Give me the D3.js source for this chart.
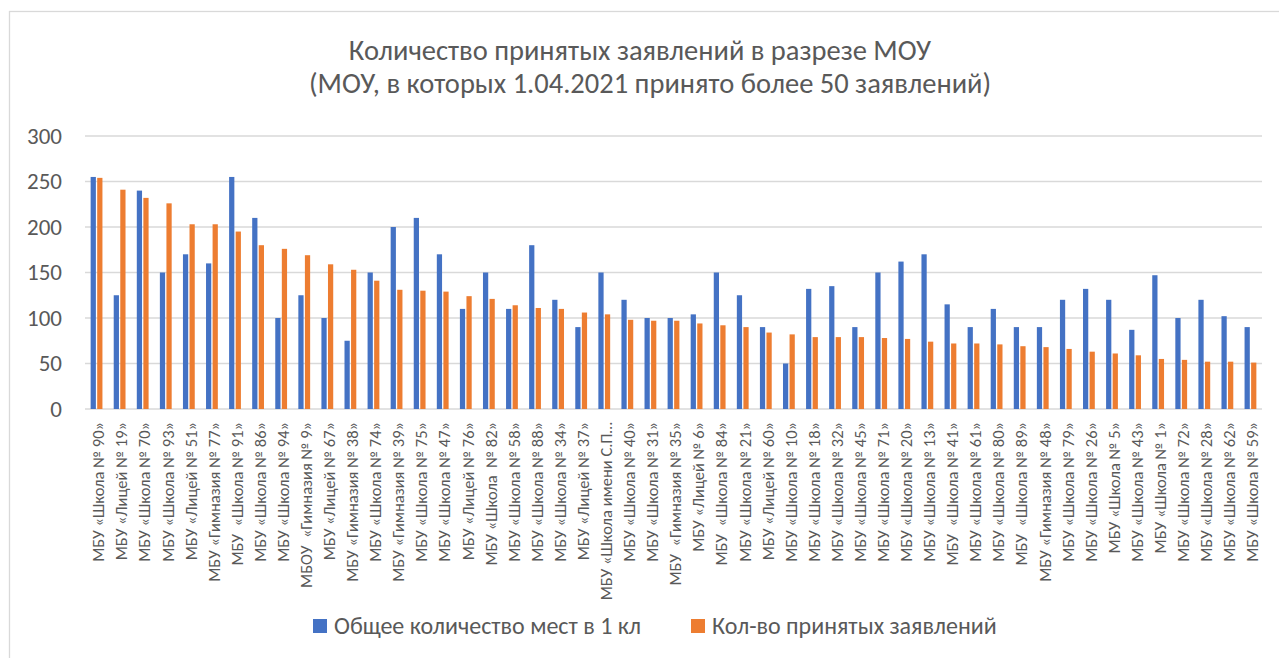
<!DOCTYPE html>
<html>
<head>
<meta charset="utf-8">
<script src="https://cdn.jsdelivr.net/npm/d3@7"></script>
<style>
  body { margin: 0; background: #fff; }
  svg text { font-family: Carlito, Lato, 'Open Sans', sans-serif; fill: #595959; white-space: pre; }
</style>
</head>
<body>
<svg id="chart" width="1279" height="658"></svg>
<script>
const categories = [
  'МБУ «Школа № 90»', 'МБУ «Лицей № 19»', 'МБУ «Школа № 70»', 'МБУ «Школа № 93»',
  'МБУ «Лицей № 51»', 'МБУ «Гимназия № 77»', 'МБУ  «Школа № 91»', 'МБУ «Школа № 86»',
  'МБУ «Школа № 94»', 'МБОУ  «Гимназия № 9»', 'МБУ «Лицей № 67»', 'МБУ «Гимназия № 38»',
  'МБУ «Школа № 74»', 'МБУ «Гимназия № 39»', 'МБУ «Школа № 75»', 'МБУ «Школа № 47»',
  'МБУ «Лицей № 76»', 'МБУ «Школа  № 82»', 'МБУ «Школа № 58»', 'МБУ «Школа № 88»',
  'МБУ «Школа № 34»', 'МБУ «Лицей № 37»', 'МБУ «Школа имени С.П…', 'МБУ «Школа № 40»',
  'МБУ «Школа № 31»', 'МБУ  «Гимназия № 35»', 'МБУ «Лицей № 6»', 'МБУ  «Школа № 84»',
  'МБУ «Школа № 21»', 'МБУ «Лицей № 60»', 'МБУ «Школа № 10»', 'МБУ «Школа № 18»',
  'МБУ «Школа № 32»', 'МБУ «Школа № 45»', 'МБУ «Школа № 71»', 'МБУ «Школа № 20»',
  'МБУ «Школа № 13»', 'МБУ  «Школа № 41»', 'МБУ «Школа № 61»', 'МБУ «Школа № 80»',
  'МБУ  «Школа № 89»', 'МБУ «Гимназия № 48»', 'МБУ «Школа № 79»', 'МБУ «Школа № 26»',
  'МБУ «Школа № 5»', 'МБУ «Школа № 43»', 'МБУ «Школа № 1»', 'МБУ «Школа № 72»',
  'МБУ «Школа № 28»', 'МБУ «Школа № 62»', 'МБУ «Школа № 59»'
];

// Общее количество мест в 1 кл
const places = [
  255, 125, 240, 150, 170, 160, 255, 210, 100, 125, 100, 75, 150, 200, 210, 170,
  110, 150, 110, 180, 120, 90, 150, 120, 100, 100, 104, 150, 125, 90, 50, 132,
  135, 90, 150, 162, 170, 115, 90, 110, 90, 90, 120, 132, 120, 87, 147, 100,
  120, 102, 90
];

// Кол-во принятых заявлений
const applications = [
  254, 241, 232, 226, 203, 203, 195, 180, 176, 169, 159, 153, 141, 131, 130, 129,
  124, 121, 114, 111, 110, 106, 104, 98, 97, 97, 94, 92, 90, 84, 82, 79,
  79, 79, 78, 77, 74, 72, 72, 71, 69, 68, 66, 63, 61, 59, 55, 54,
  52, 52, 51
];

const seriesNames = ['Общее количество мест в 1 кл', 'Кол-во принятых заявлений'];
const seriesColors = ['#4472C4', '#ED7D31'];
const yTicks = [0, 50, 100, 150, 200, 250, 300];

const svg = d3.select('#chart');
const margin = { top: 136, right: 17, bottom: 249, left: 85 };
const width = 1279, height = 658;

svg.append('rect')
  .attr('x', 9.5).attr('y', 11.5)
  .attr('width', 1300).attr('height', 700)
  .attr('fill', '#fff').attr('stroke', '#D9D9D9').attr('stroke-width', 1.3);

const x0 = d3.scaleBand()
  .domain(categories)
  .range([margin.left, width - margin.right]);

const x1 = d3.scaleBand()
  .domain(d3.range(seriesNames.length))
  .range([0, x0.bandwidth()])
  .paddingInner(0.2)
  .paddingOuter(0.86);

const y = d3.scaleLinear()
  .domain([0, 300])
  .range([height - margin.bottom, margin.top]);

// gridlines
svg.append('g')
  .selectAll('line')
  .data(yTicks)
  .join('line')
  .attr('x1', margin.left).attr('x2', width - margin.right)
  .attr('y1', d => y(d)).attr('y2', d => y(d))
  .attr('stroke', '#D9D9D9').attr('stroke-width', 1.3);

// y axis labels
const yAxis = d3.axisLeft(y).tickValues(yTicks).tickSize(0).tickPadding(23);
svg.append('g')
  .attr('transform', `translate(${margin.left},0)`)
  .call(yAxis)
  .call(g => g.select('.domain').remove())
  .call(g => g.selectAll('text')
    .attr('font-size', 23)
    .attr('fill', '#595959')
    .attr('font-family', null));

// bars
const rows = categories.map((c, i) => ({ c, v: [places[i], applications[i]] }));
svg.append('g')
  .selectAll('g')
  .data(rows)
  .join('g')
  .attr('transform', d => `translate(${x0(d.c)},0)`)
  .selectAll('rect')
  .data(d => d.v.map((v, k) => ({ v, k })))
  .join('rect')
  .attr('x', d => x1(d.k))
  .attr('width', x1.bandwidth())
  .attr('y', d => y(d.v))
  .attr('height', d => y(0) - y(d.v))
  .attr('fill', d => seriesColors[d.k]);

// x labels
svg.append('g')
  .selectAll('text')
  .data(categories)
  .join('text')
  .attr('transform', d => `translate(${x0(d) + x0.bandwidth() / 2 + 2},${y(0) + 13}) rotate(-90)`)
  .attr('dy', '0.35em')
  .attr('text-anchor', 'end')
  .attr('font-size', 16.5)
  .text(d => d);

// title
svg.append('text')
  .attr('x', 640).attr('y', 60)
  .attr('text-anchor', 'middle')
  .attr('font-size', 28.5)
  .text('Количество принятых заявлений в разрезе МОУ');
svg.append('text')
  .attr('x', 650).attr('y', 93)
  .attr('text-anchor', 'middle')
  .attr('font-size', 28.5)
  .text('(МОУ, в которых 1.04.2021 принято более 50 заявлений)');

// legend
const legendX = [313, 691];
const legend = svg.append('g')
  .selectAll('g')
  .data(seriesNames)
  .join('g')
  .attr('transform', (d, i) => `translate(${legendX[i]},619)`);
legend.append('rect')
  .attr('width', 14).attr('height', 14)
  .attr('fill', (d, i) => seriesColors[i]);
legend.append('text')
  .attr('x', 21).attr('y', 15)
  .attr('font-size', 24)
  .text(d => d);
</script>
</body>
</html>
